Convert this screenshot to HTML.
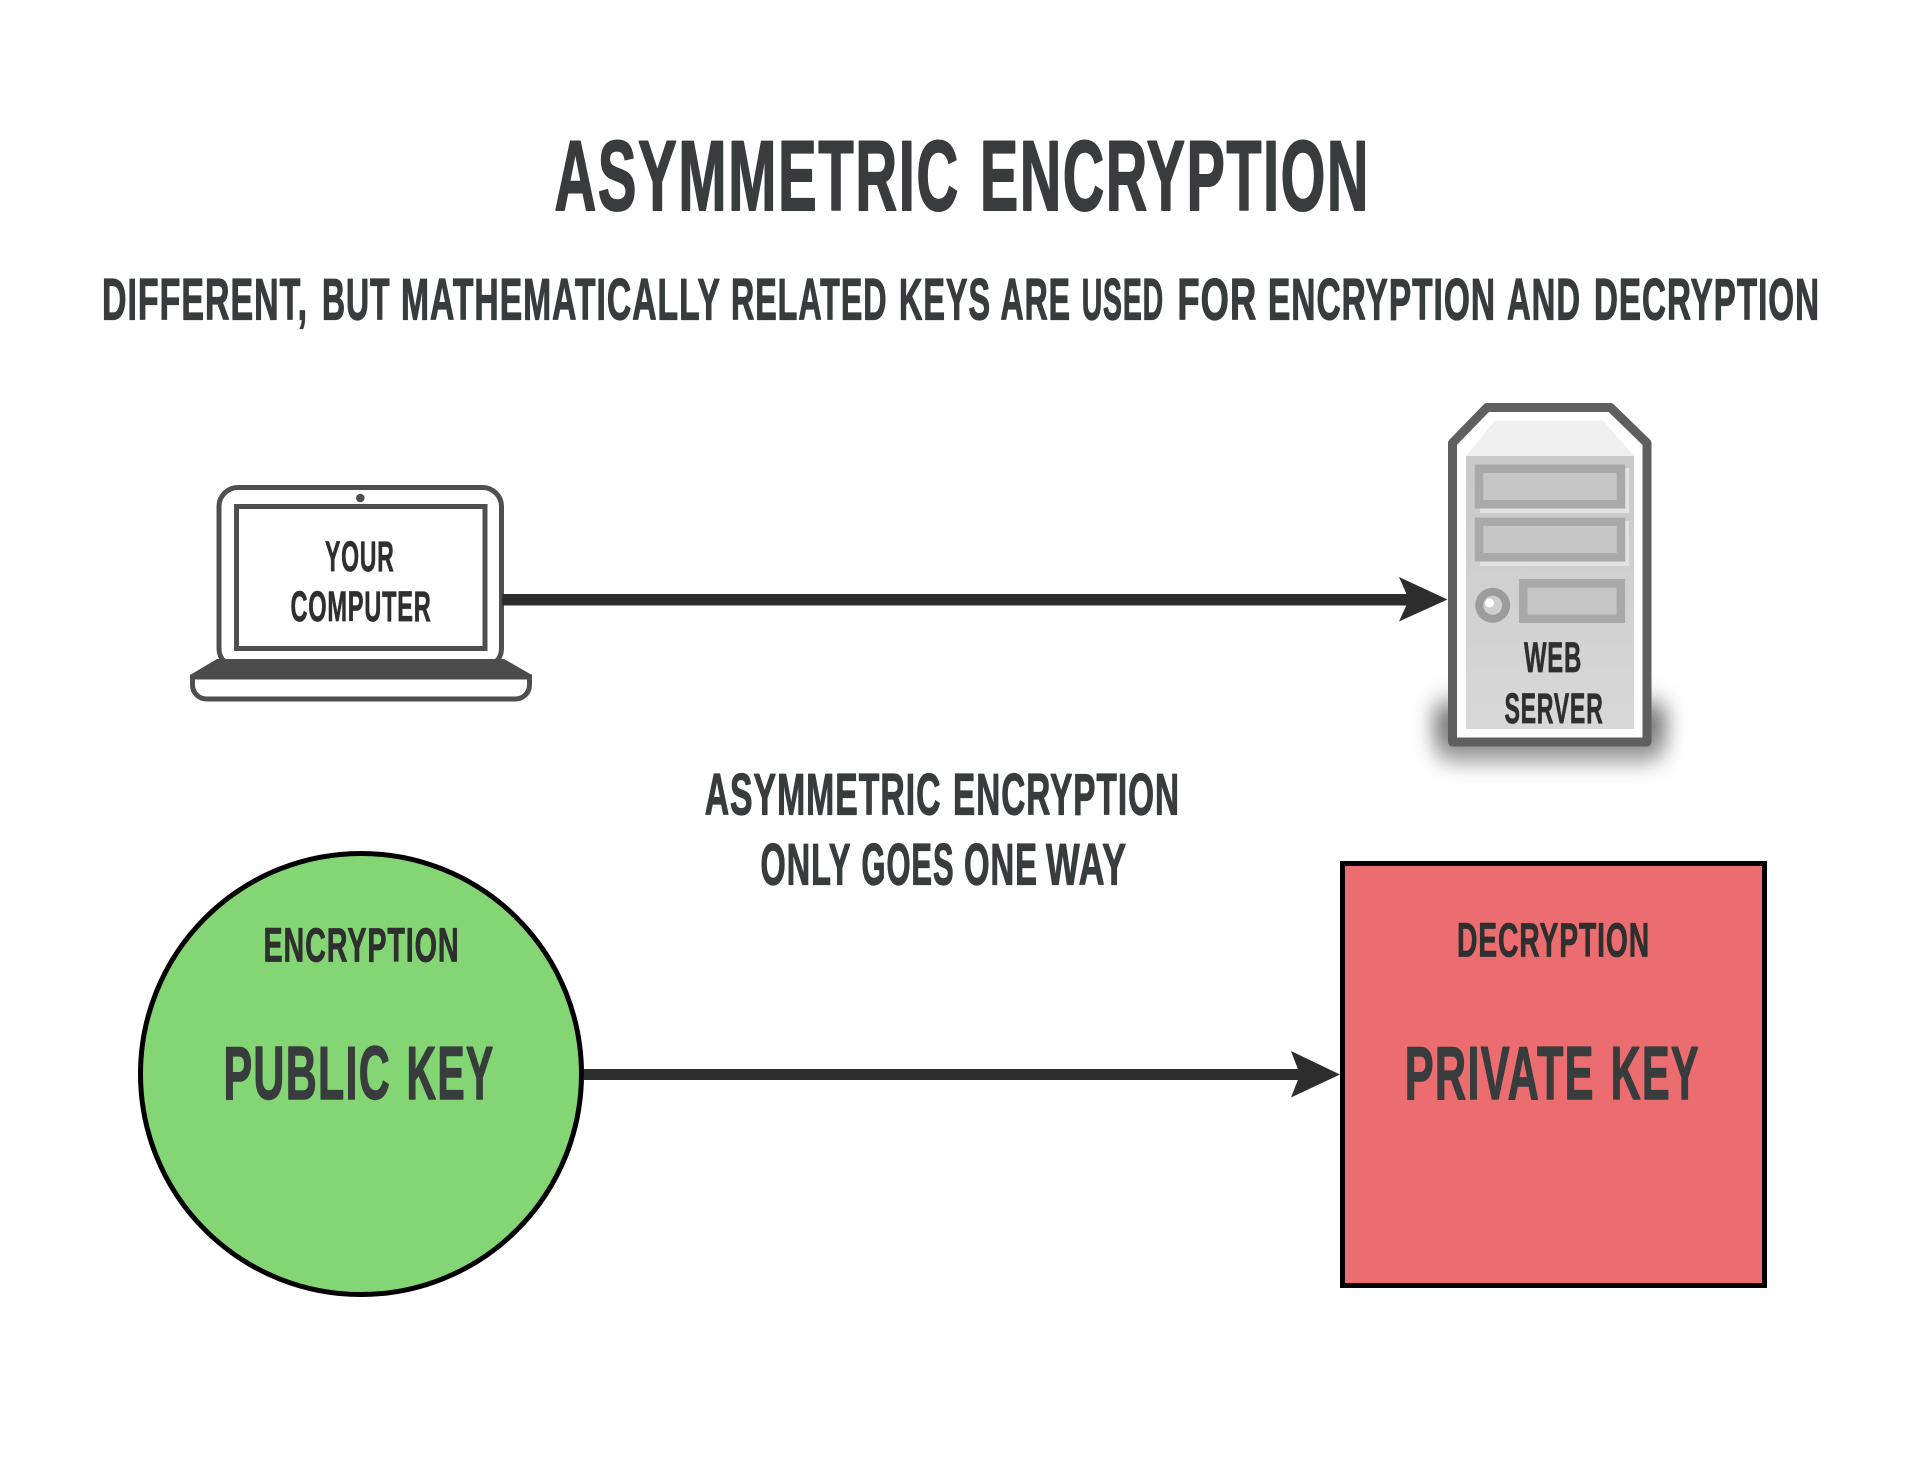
<!DOCTYPE html>
<html lang="en">
<head>
<meta charset="utf-8">
<title>Asymmetric Encryption</title>
<style>
html,body{margin:0;padding:0;background:#fff;width:1920px;height:1461px;overflow:hidden}
svg{display:block}
text{font-family:"Liberation Sans",Arial,sans-serif;font-weight:700;stroke-linejoin:round;letter-spacing:.03em}
.d{fill:#383c3d;stroke:#383c3d}
.k{fill:#2f2f2f;stroke:#2f2f2f}
.t{font-size:99px;stroke-width:2px}
.s{font-size:58px;stroke-width:1.200px}
.b{font-size:75px;stroke-width:1.400px}
</style>
</head>
<body>
<svg xmlns="http://www.w3.org/2000/svg" width="1920" height="1461" viewBox="0 0 1920 1461">
<defs>
<filter id="f" x="-30%" y="-50%" width="160%" height="200%"><feGaussianBlur stdDeviation="10"/></filter>
<linearGradient id="p" x1="0" y1="0" x2="0" y2="1"><stop offset="0" stop-color="#c9c9c9"/><stop offset="1" stop-color="#d8d8d8"/></linearGradient>
<linearGradient id="g" x1="0" y1="0" x2="0" y2="1"><stop offset="0" stop-color="#000" stop-opacity="0"/><stop offset=".4" stop-color="#000" stop-opacity=".6"/><stop offset=".72" stop-color="#000" stop-opacity=".42"/><stop offset="1" stop-color="#000" stop-opacity=".3"/></linearGradient>
</defs>
<rect width="1920" height="1461" fill="#fff"/>

<g class="d">
<text class="d t" x="554.500" y="210" textLength="405.500" lengthAdjust="spacingAndGlyphs">ASYMMETRIC</text>
<text class="d t" x="980" y="210" textLength="390" lengthAdjust="spacingAndGlyphs">ENCRYPTION</text>

<text class="d s" x="102" y="319.500" textLength="206" lengthAdjust="spacingAndGlyphs">DIFFERENT,</text>
<text class="d s" x="322" y="319.500" textLength="68.500" lengthAdjust="spacingAndGlyphs">BUT</text>
<text class="d s" x="401" y="319.500" textLength="320" lengthAdjust="spacingAndGlyphs">MATHEMATICALLY</text>
<text class="d s" x="731" y="319.500" textLength="156.500" lengthAdjust="spacingAndGlyphs">RELATED</text>
<text class="d s" x="899" y="319.500" textLength="92" lengthAdjust="spacingAndGlyphs">KEYS</text>
<text class="d s" x="1000.500" y="319.500" textLength="70.500" lengthAdjust="spacingAndGlyphs">ARE</text>
<text class="d s" x="1081.700" y="319.500" textLength="82.300" lengthAdjust="spacingAndGlyphs">USED</text>
<text class="d s" x="1177.400" y="319.500" textLength="80" lengthAdjust="spacingAndGlyphs">FOR</text>
<text class="d s" x="1268" y="319.500" textLength="228" lengthAdjust="spacingAndGlyphs">ENCRYPTION</text>
<text class="d s" x="1507" y="319.500" textLength="74" lengthAdjust="spacingAndGlyphs">AND</text>
<text class="d s" x="1594" y="319.500" textLength="226" lengthAdjust="spacingAndGlyphs">DECRYPTION</text>
</g>

<!-- laptop -->
<rect x="219" y="487.500" width="282.500" height="180" rx="19" fill="#fff" stroke="#4f4f4f" stroke-width="5"/>
<rect x="236.500" y="506.500" width="248.500" height="142" fill="#fff" stroke="#4f4f4f" stroke-width="5"/>
<circle cx="360.300" cy="498" r="4.300" fill="#4f4f4f"/>
<path d="M192.500 677H529.500V685a14 14 0 0 1-14 14H206.500a14 14 0 0 1-14-14Z" fill="#fff" stroke="#4f4f4f" stroke-width="5"/>
<path d="M217 659H504L532 675V679.500H190V675Z" fill="#4c4c4c"/>
<text class="k" x="325" y="571" font-size="43" stroke-width=".7" textLength="69.500" lengthAdjust="spacingAndGlyphs">YOUR</text>
<text class="k" x="290.500" y="621" font-size="43" stroke-width=".7" textLength="141" lengthAdjust="spacingAndGlyphs">COMPUTER</text>

<!-- arrow 1 -->
<rect x="502" y="594" width="920" height="11.500" fill="#2d2d2d"/>
<path d="M1447.500 599.500L1399 577L1409 599.500L1399 621.500Z" fill="#2d2d2d"/>

<!-- server -->
<rect x="1434" y="690" width="232" height="74" rx="20" fill="url(#g)" filter="url(#f)"/>
<path d="M1452.500 443L1487 407.500H1610.500L1647 443V742H1452.500Z" fill="#fff" stroke="#5f5f5f" stroke-width="9" stroke-linejoin="round"/>
<path d="M1466 456L1495 420.500H1603L1634 456Z" fill="#f0f0f0"/>
<rect x="1466" y="456" width="168" height="273" fill="url(#p)"/>
<rect x="1480" y="468" width="149" height="45" fill="#e2e2e2"/>
<rect x="1480" y="521" width="149" height="45" fill="#e2e2e2"/>
<rect x="1479" y="468.800" width="142" height="35.500" fill="#c6c6c6" stroke="#a9a9a9" stroke-width="8.500"/>
<rect x="1479" y="521.800" width="142" height="35.500" fill="#c6c6c6" stroke="#a9a9a9" stroke-width="8.500"/>
<rect x="1523.300" y="583.300" width="97.500" height="35.500" fill="#c6c6c6" stroke="#a9a9a9" stroke-width="8.500"/>
<circle cx="1492.700" cy="605.300" r="17.500" fill="#9c9c9c"/>
<circle cx="1492.700" cy="605.300" r="9.500" fill="#cfcfcf"/>
<circle cx="1489.500" cy="603" r="4.500" fill="#fff"/>
<text class="k" x="1524" y="672" font-size="43" stroke-width=".7" textLength="58" lengthAdjust="spacingAndGlyphs">WEB</text>
<text class="k" x="1504.500" y="723" font-size="43" stroke-width=".7" textLength="99" lengthAdjust="spacingAndGlyphs">SERVER</text>

<!-- middle -->
<text class="d s" x="704.700" y="814.500" textLength="236.800" lengthAdjust="spacingAndGlyphs">ASYMMETRIC</text>
<text class="d s" x="953" y="814.500" textLength="227" lengthAdjust="spacingAndGlyphs">ENCRYPTION</text>
<text class="d s" x="760.500" y="884.500" textLength="91" lengthAdjust="spacingAndGlyphs">ONLY</text>
<text class="d s" x="861.500" y="884.500" textLength="93" lengthAdjust="spacingAndGlyphs">GOES</text>
<text class="d s" x="964" y="884.500" textLength="74" lengthAdjust="spacingAndGlyphs">ONE</text>
<text class="d s" x="1046" y="884.500" textLength="81" lengthAdjust="spacingAndGlyphs">WAY</text>

<!-- public key -->
<circle cx="361" cy="1074" r="220.500" fill="#84d675" stroke="#000" stroke-width="5"/>
<text class="k" x="263.500" y="961.500" font-size="48" stroke-width=".8" textLength="196" lengthAdjust="spacingAndGlyphs">ENCRYPTION</text>
<text class="d b" x="223.500" y="1099" textLength="167.500" lengthAdjust="spacingAndGlyphs">PUBLIC</text>
<text class="d b" x="406.500" y="1099" textLength="88" lengthAdjust="spacingAndGlyphs">KEY</text>

<!-- arrow 2 -->
<rect x="584" y="1069" width="716" height="11" fill="#2d2d2d"/>
<path d="M1340 1074.500L1291 1051L1300 1074.500L1291 1097.500Z" fill="#2d2d2d"/>

<!-- private key -->
<rect x="1342.500" y="863.500" width="422" height="422" fill="#ec6d6f" stroke="#000" stroke-width="5"/>
<text class="k" x="1457" y="956.500" font-size="48" stroke-width=".8" textLength="193" lengthAdjust="spacingAndGlyphs">DECRYPTION</text>
<text class="d b" x="1404.800" y="1099" textLength="190" lengthAdjust="spacingAndGlyphs">PRIVATE</text>
<text class="d b" x="1610.800" y="1099" textLength="89" lengthAdjust="spacingAndGlyphs">KEY</text>
</svg>
</body>
</html>
